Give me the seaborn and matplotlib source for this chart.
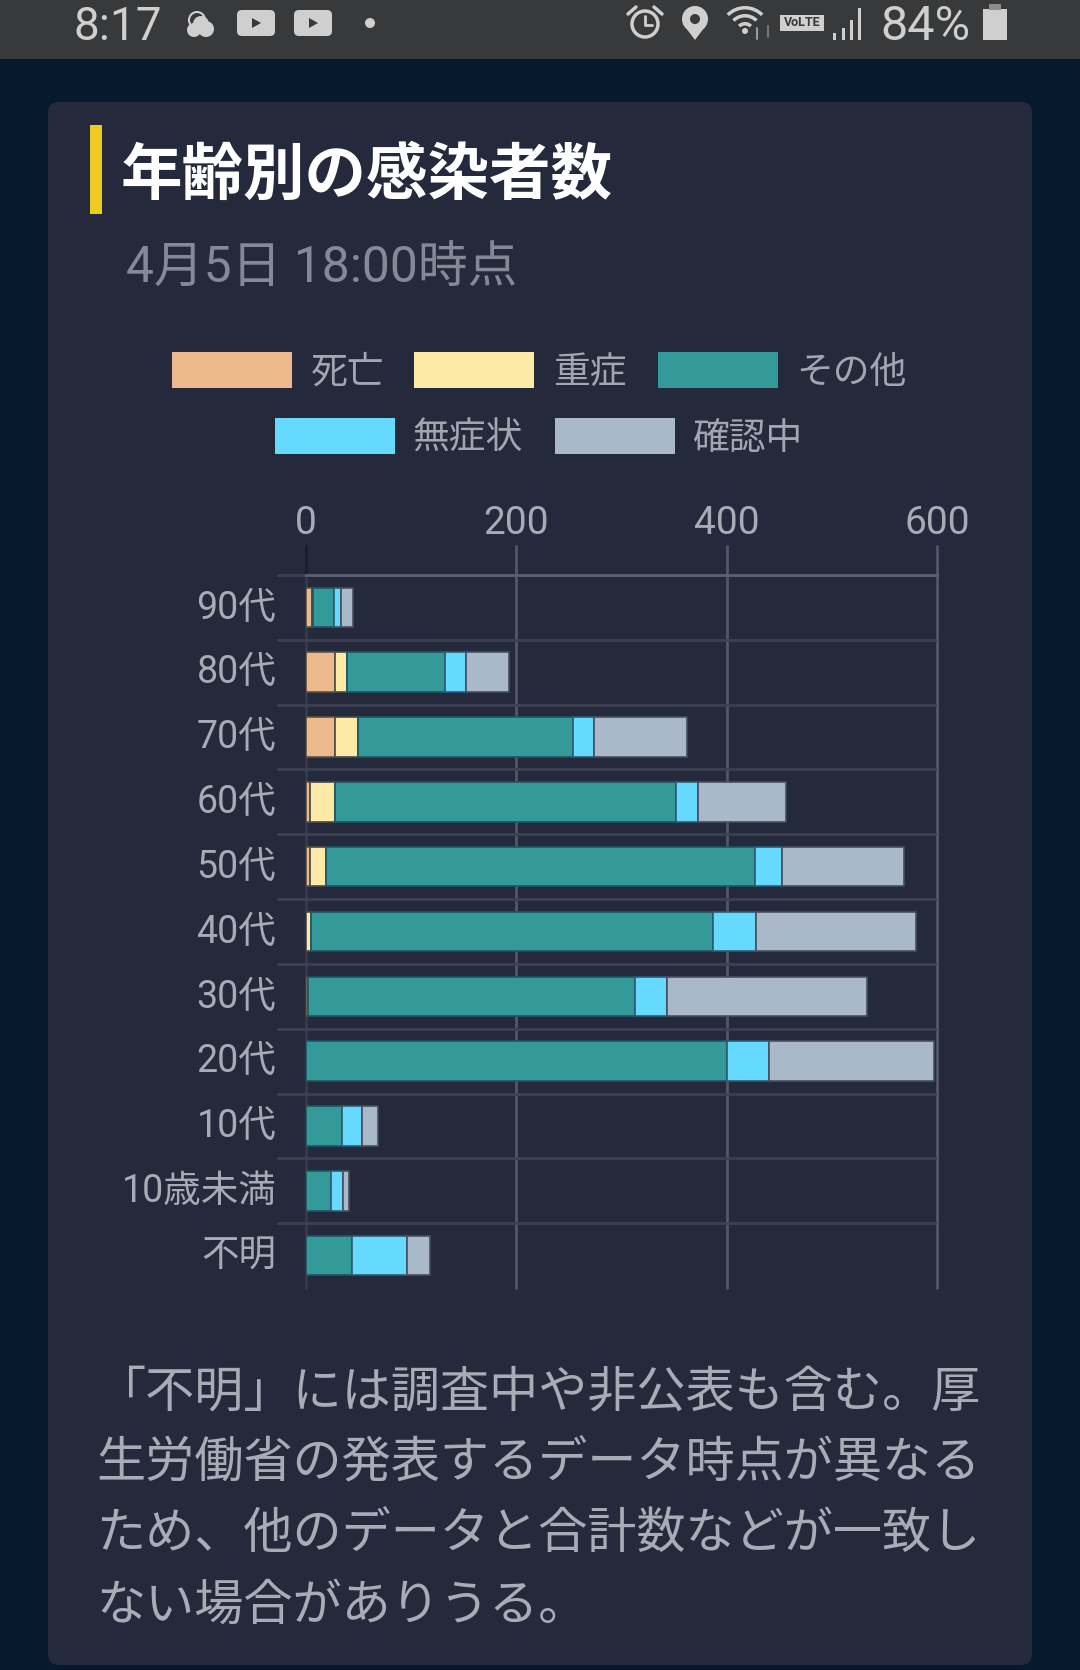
import numpy as np
import matplotlib
matplotlib.use("Agg")
import matplotlib.pyplot as plt
from matplotlib.patches import FancyBboxPatch, Rectangle, Polygon, Circle, Wedge
from matplotlib.transforms import ScaledTranslation
import seaborn as sns

ages = ["90代", "80代", "70代", "60代", "50代", "40代", "30代", "20代", "10代", "10歳未満", "不明"]
deaths = [6, 28, 28, 4, 4, 0, 0, 0, 0, 0, 0]
severe = [1, 11, 21, 24, 15, 5, 2, 0, 0, 0, 0]
other = [20, 93, 205, 324, 408, 382, 311, 400, 34, 24, 44]
asympt = [6, 20, 20, 21, 26, 41, 30, 40, 19, 11, 52]
checking = [12, 41, 88, 83, 116, 152, 190, 157, 15, 6, 22]
series_names = ["死亡", "重症", "その他", "無症状", "確認中"]
series_values = [deaths, severe, other, asympt, checking]
series_colors = ["#ecba8a", "#fdeaa7", "#339999", "#66d9ff", "#a9b9c9"]
edge_colors = ["#5c5248", "#4a4a48", "#1f5566", "#2f5a72", "#474e60"]
x_ticks = [0, 200, 400, 600]

title = "年齢別の感染者数"
subtitle = "4月5日 18:00時点"
note_lines = ["「不明」には調査中や非公表も含む。厚",
              "生労働省の発表するデータ時点が異なる",
              "ため、他のデータと合計数などが一致し",
              "ない場合がありうる。"]

sns.set_style("white")
plt.rcParams["font.family"] = ["Noto Sans CJK JP", "DejaVu Sans"]
FONT = ["Roboto", "Noto Sans CJK JP"]

W, H = 1080, 1670
fig = plt.figure(figsize=(W / 100, H / 100), dpi=100, facecolor="#051a2c")

# page layer in pixel coordinates
bg = fig.add_axes([0, 0, 1, 1], zorder=0)
bg.set_xlim(0, W)
bg.set_ylim(H, 0)
bg.axis("off")
bg.add_patch(Rectangle((0, 0), W, 59, fc="#38393b", ec="none"))
bg.add_patch(FancyBboxPatch((48, 102), 984, 1563, boxstyle="round,pad=0,rounding_size=11",
                            fc="#24293b", ec="none"))
bg.add_patch(Rectangle((90, 125), 12, 89, fc="#edcb21", ec="none"))
bg.text(121, 176, title, fontsize=44.3, fontweight="bold", color="#ffffff", va="center", ha="left")
bg.text(126, 269, subtitle, fontsize=35.8, color="#858896", va="center", ha="left", family=FONT)

# status bar
sc = "#cfcfcf"
bg.text(73, 27, "8:17", fontsize=33, color=sc, va="center", ha="left", family="Roboto")
bg.text(880, 27, "84%", fontsize=35, color=sc, va="center", ha="left", family="Roboto")
bg.add_patch(Circle((197, 20), 8, fc="none", ec=sc, lw=1.5))
bg.add_patch(Circle((194, 30), 7, fc=sc, ec="none"))
bg.add_patch(Circle((206, 29), 8, fc=sc, ec="none"))
bg.add_patch(Circle((201, 24), 8, fc=sc, ec="none"))
for xc in (256, 313):
    bg.add_patch(FancyBboxPatch((xc - 19, 10), 38, 26, boxstyle="round,pad=0,rounding_size=5", fc=sc, ec="none"))
    bg.add_patch(Polygon([(xc - 4, 18), (xc - 4, 28), (xc + 5, 23)], fc="#38393b", ec="none"))
bg.add_patch(Circle((370, 23), 5, fc=sc, ec="none"))
bg.add_patch(Circle((645, 24), 13, fc="none", ec=sc, lw=2.5))
bg.plot([645, 645, 652], [16, 25, 25], color=sc, lw=2)
bg.plot([628, 636], [14, 7], color=sc, lw=2.5)
bg.plot([654, 662], [7, 14], color=sc, lw=2.5)
bg.add_patch(Circle((695, 19), 13, fc=sc, ec="none"))
bg.add_patch(Polygon([(683, 24), (707, 24), (695, 40)], fc=sc, ec="none"))
bg.add_patch(Circle((695, 19), 5, fc="#38393b", ec="none"))
for r in (10, 18, 26):
    bg.add_patch(Wedge((745, 32), r, 225, 315, width=3.5, fc=sc, ec="none"))
bg.add_patch(Circle((745, 31), 3, fc=sc, ec="none"))
bg.plot([757, 757], [28, 39], color="#9a9a9a", lw=1.5)
bg.plot([768, 768], [26, 37], color="#777777", lw=1.5)
bg.add_patch(Rectangle((780, 15), 44, 16, fc=sc, ec="none"))
bg.text(802, 23, "VoLTE", fontsize=9, color="#38393b", fontweight="bold", va="center", ha="center", family="Roboto")
for xb, top in zip((833, 842, 850, 858), (33, 28, 20, 8)):
    bg.add_patch(Rectangle((xb, top), 3, 40 - top, fc=sc, ec="none"))
bg.add_patch(Rectangle((983, 9), 24, 31, fc=sc, ec="none"))
bg.add_patch(Rectangle((989, 4), 12, 6, fc="#8c8c8c", ec="none"))

# legend
legend_rows = [(369.5, [(0, 172, 311), (1, 414, 553), (2, 658, 796)]),
               (435.5, [(3, 275, 412), (4, 555, 692)])]
for yc, items in legend_rows:
    for i, xb, xt in items:
        bg.add_patch(Rectangle((xb, yc - 18), 120, 36, fc=series_colors[i], ec="none"))
        bg.text(xt, yc + 2.5, series_names[i], fontsize=26.5, color="#a3a6b0", va="center", ha="left")

# note
for yc, line in zip((1392, 1463, 1535, 1606), note_lines):
    bg.text(96, yc, line, fontsize=35.4, color="#a9acb6", va="center", ha="left")

# chart
ax = fig.add_axes([306 / W, 1 - 1288 / H, (937 - 306) / W, (1288 - 575) / H], zorder=1)
ax.patch.set_alpha(0)
left = np.zeros(len(ages))
for vals, col, edge in zip(series_values, series_colors, edge_colors):
    sns.barplot(x=vals, y=ages, order=ages, orient="h", color=col, saturation=1, width=0.61,
                left=left, edgecolor=edge, linewidth=1.2, ax=ax)
    left = left + np.array(vals)

ax.set_xlim(0, 600)
ax.set_ylim(len(ages) - 0.5, -0.5)
ax.set_xlabel("")
ax.set_ylabel("")
ax.xaxis.tick_top()
ax.set_xticks(x_ticks)
ax.set_xticklabels([str(v) for v in x_ticks])
ax.set_yticks(np.arange(len(ages)))
ax.set_yticklabels(ages)
ax.set_yticks(np.arange(len(ages)) - 0.5, minor=True)
ax.tick_params(axis="x", which="major", top=True, length=21.6, width=2, color="#545766",
               labelsize=28, labelcolor="#a8abb5", pad=2)
ax.tick_params(axis="y", which="major", left=False, labelsize=27, labelcolor="#a8abb5", pad=18)
ax.tick_params(axis="y", which="minor", left=True, length=21, width=2, color="#3e4152")
shift = ScaledTranslation(0, 2.4 / 72, fig.dpi_scale_trans)
for lab in ax.get_xticklabels():
    lab.set_fontfamily(FONT)
for lab in ax.get_yticklabels():
    lab.set_fontfamily(FONT)
    lab.set_transform(lab.get_transform() + shift)
ax.set_axisbelow(True)
ax.grid(False)
ax.grid(True, axis="x", which="major", color="#545766", lw=2)
ax.grid(True, axis="y", which="minor", color="#3e4152", lw=2)
for gl in ax.get_xgridlines():
    gl.set_clip_on(False)
ax.get_xgridlines()[0].set_color("#36394a")
ax.xaxis.get_major_ticks()[0].tick2line.set_markeredgecolor("#1a1d2c")
for name, sp in ax.spines.items():
    sp.set_visible(name == "top")
ax.spines["top"].set_color("#5c5f6e")
ax.spines["top"].set_linewidth(2)

fig.savefig("out.png", dpi=100, facecolor=fig.get_facecolor())
